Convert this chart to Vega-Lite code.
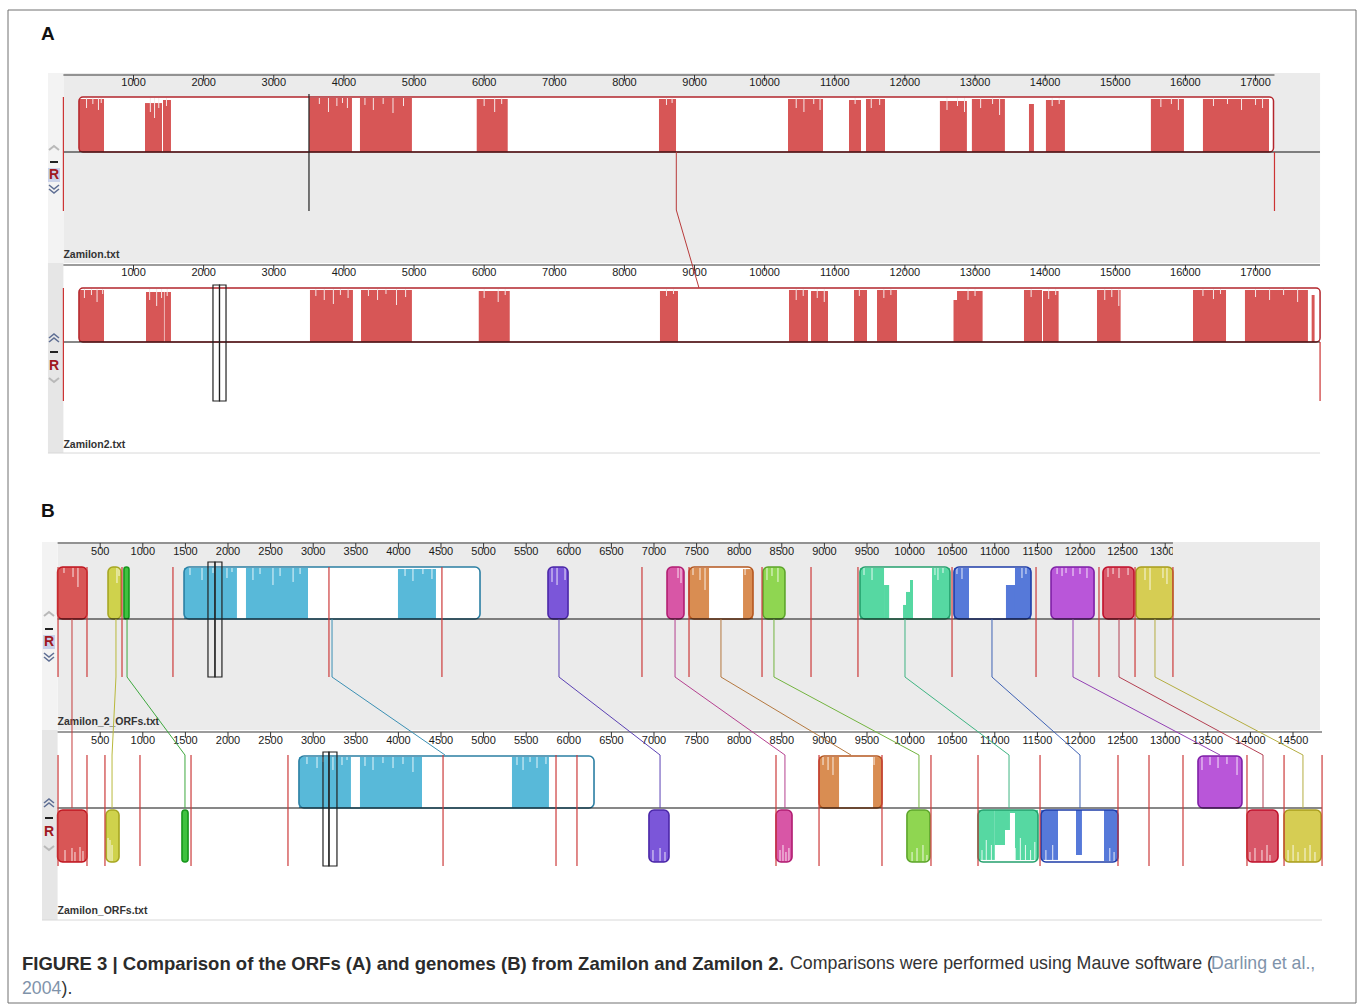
{
"$schema":"https://vega.github.io/schema/vega-lite/v6.json",
"width":1358,"height":1004,"padding":0,"autosize":{"type":"none"},
"background":"#ffffff",
"config":{"view":{"stroke":null},"text":{"font":"Liberation Sans"}},
"datasets":{
"caption":[{"id":"A","t":"A"},{"id":"B","t":"B"},{"id":"title","t":"FIGURE 3 | Comparison of the ORFs (A) and genomes (B) from Zamilon and Zamilon 2."},{"id":"body","t":"Comparisons were performed using Mauve software ("},{"id":"ref","t":"Darling et al.,"},{"id":"year","t":"2004"},{"id":"end","t":")."}],
"aSeq":[{"g":"Zamilon","file":"Zamilon.txt","len":17270},{"g":"Zamilon2","file":"Zamilon2.txt","len":17920}],
"aBlocks":[{"g":"Zamilon","s":222,"e":17256},{"g":"Zamilon2","s":222,"e":17920}],
"aTicks":[{"v":1000},{"v":2000},{"v":3000},{"v":4000},{"v":5000},{"v":6000},{"v":7000},{"v":8000},{"v":9000},{"v":10000},{"v":11000},{"v":12000},{"v":13000},{"v":14000},{"v":15000},{"v":16000},{"v":17000}],
"aProf":[
{"g":"Zamilon","s":222,"e":579,"lvl":0.964},{"g":"Zamilon","s":1164,"e":1406,"lvl":0.89},{"g":"Zamilon","s":1420,"e":1534,"lvl":0.945},{"g":"Zamilon","s":3502,"e":4115,"lvl":0.98},{"g":"Zamilon","s":4229,"e":4970,"lvl":0.98},{"g":"Zamilon","s":5894,"e":6336,"lvl":0.964},{"g":"Zamilon","s":8493,"e":8736,"lvl":0.964},{"g":"Zamilon","s":10333,"e":10832,"lvl":0.964},{"g":"Zamilon","s":11203,"e":11374,"lvl":0.945},{"g":"Zamilon","s":11445,"e":11716,"lvl":0.964},{"g":"Zamilon","s":12499,"e":12884,"lvl":0.927},{"g":"Zamilon","s":12955,"e":13426,"lvl":0.964},{"g":"Zamilon","s":13769,"e":13840,"lvl":0.873},{"g":"Zamilon","s":14011,"e":14282,"lvl":0.945},{"g":"Zamilon","s":15508,"e":15979,"lvl":0.964},{"g":"Zamilon","s":16250,"e":17192,"lvl":0.964},
{"g":"Zamilon2","s":222,"e":579,"lvl":0.963},{"g":"Zamilon2","s":1178,"e":1434,"lvl":0.926},{"g":"Zamilon2","s":1442,"e":1534,"lvl":0.926},{"g":"Zamilon2","s":3516,"e":4129,"lvl":0.963},{"g":"Zamilon2","s":4244,"e":4970,"lvl":0.963},{"g":"Zamilon2","s":5923,"e":6365,"lvl":0.944},{"g":"Zamilon2","s":8507,"e":8764,"lvl":0.944},{"g":"Zamilon2","s":10347,"e":10618,"lvl":0.963},{"g":"Zamilon2","s":10661,"e":10903,"lvl":0.944},{"g":"Zamilon2","s":11274,"e":11459,"lvl":0.963},{"g":"Zamilon2","s":11602,"e":11887,"lvl":0.963},{"g":"Zamilon2","s":12693,"e":12743,"lvl":0.778},{"g":"Zamilon2","s":12743,"e":13108,"lvl":0.944},{"g":"Zamilon2","s":13698,"e":13955,"lvl":0.963},{"g":"Zamilon2","s":13969,"e":14192,"lvl":0.944},{"g":"Zamilon2","s":14739,"e":15076,"lvl":0.963},{"g":"Zamilon2","s":16108,"e":16579,"lvl":0.963},{"g":"Zamilon2","s":16849,"e":17747,"lvl":0.963},{"g":"Zamilon2","s":17800,"e":17842,"lvl":0.87}],
"aDip":[
{"g":"Zamilon","pos":330,"lo":0.8},{"g":"Zamilon","pos":420,"lo":0.873},{"g":"Zamilon","pos":500,"lo":0.764},{"g":"Zamilon","pos":540,"lo":0.891},
{"g":"Zamilon","pos":1240,"lo":0.727},{"g":"Zamilon","pos":1300,"lo":0.618},{"g":"Zamilon","pos":1360,"lo":0.8},{"g":"Zamilon","pos":1470,"lo":0.836},
{"g":"Zamilon","pos":3650,"lo":0.873},{"g":"Zamilon","pos":3780,"lo":0.727},{"g":"Zamilon","pos":3900,"lo":0.836},{"g":"Zamilon","pos":3980,"lo":0.891},{"g":"Zamilon","pos":4050,"lo":0.8},
{"g":"Zamilon","pos":4300,"lo":0.855},{"g":"Zamilon","pos":4420,"lo":0.764},{"g":"Zamilon","pos":4560,"lo":0.873},{"g":"Zamilon","pos":4700,"lo":0.709},{"g":"Zamilon","pos":4850,"lo":0.836},
{"g":"Zamilon","pos":6000,"lo":0.836},{"g":"Zamilon","pos":6150,"lo":0.727},{"g":"Zamilon","pos":6250,"lo":0.873},
{"g":"Zamilon","pos":8600,"lo":0.855},{"g":"Zamilon","pos":8680,"lo":0.891},
{"g":"Zamilon","pos":10450,"lo":0.8},{"g":"Zamilon","pos":10560,"lo":0.727},{"g":"Zamilon","pos":10700,"lo":0.873},{"g":"Zamilon","pos":10790,"lo":0.764},
{"g":"Zamilon","pos":11290,"lo":0.873},{"g":"Zamilon","pos":11520,"lo":0.8},{"g":"Zamilon","pos":11640,"lo":0.855},
{"g":"Zamilon","pos":12600,"lo":0.764},{"g":"Zamilon","pos":12750,"lo":0.836},{"g":"Zamilon","pos":12850,"lo":0.727},
{"g":"Zamilon","pos":13080,"lo":0.8},{"g":"Zamilon","pos":13250,"lo":0.873},{"g":"Zamilon","pos":13350,"lo":0.673},
{"g":"Zamilon","pos":14100,"lo":0.836},{"g":"Zamilon","pos":14200,"lo":0.873},
{"g":"Zamilon","pos":15650,"lo":0.818},{"g":"Zamilon","pos":15800,"lo":0.873},{"g":"Zamilon","pos":15900,"lo":0.764},
{"g":"Zamilon","pos":16400,"lo":0.836},{"g":"Zamilon","pos":16600,"lo":0.873},{"g":"Zamilon","pos":16800,"lo":0.764},{"g":"Zamilon","pos":17000,"lo":0.855},{"g":"Zamilon","pos":17100,"lo":0.8},
{"g":"Zamilon2","pos":300,"lo":0.815},{"g":"Zamilon2","pos":400,"lo":0.87},{"g":"Zamilon2","pos":480,"lo":0.741},{"g":"Zamilon2","pos":560,"lo":0.889},
{"g":"Zamilon2","pos":1230,"lo":0.778},{"g":"Zamilon2","pos":1330,"lo":0.667},{"g":"Zamilon2","pos":1400,"lo":0.815},{"g":"Zamilon2","pos":1480,"lo":0.852},
{"g":"Zamilon2","pos":3600,"lo":0.852},{"g":"Zamilon2","pos":3720,"lo":0.778},{"g":"Zamilon2","pos":3850,"lo":0.704},{"g":"Zamilon2","pos":3950,"lo":0.87},{"g":"Zamilon2","pos":4060,"lo":0.815},
{"g":"Zamilon2","pos":4350,"lo":0.852},{"g":"Zamilon2","pos":4480,"lo":0.778},{"g":"Zamilon2","pos":4600,"lo":0.889},{"g":"Zamilon2","pos":4750,"lo":0.685},{"g":"Zamilon2","pos":4880,"lo":0.833},
{"g":"Zamilon2","pos":6000,"lo":0.815},{"g":"Zamilon2","pos":6200,"lo":0.741},{"g":"Zamilon2","pos":6300,"lo":0.87},
{"g":"Zamilon2","pos":8600,"lo":0.852},{"g":"Zamilon2","pos":8700,"lo":0.889},
{"g":"Zamilon2","pos":10450,"lo":0.778},{"g":"Zamilon2","pos":10550,"lo":0.852},{"g":"Zamilon2","pos":10750,"lo":0.815},{"g":"Zamilon2","pos":10850,"lo":0.741},
{"g":"Zamilon2","pos":11350,"lo":0.852},{"g":"Zamilon2","pos":11700,"lo":0.815},{"g":"Zamilon2","pos":11800,"lo":0.87},
{"g":"Zamilon2","pos":12900,"lo":0.778},{"g":"Zamilon2","pos":13000,"lo":0.852},
{"g":"Zamilon2","pos":13800,"lo":0.833},{"g":"Zamilon2","pos":14050,"lo":0.796},{"g":"Zamilon2","pos":14150,"lo":0.87},
{"g":"Zamilon2","pos":14850,"lo":0.778},{"g":"Zamilon2","pos":14950,"lo":0.833},{"g":"Zamilon2","pos":15050,"lo":0.667},
{"g":"Zamilon2","pos":16250,"lo":0.852},{"g":"Zamilon2","pos":16400,"lo":0.796},{"g":"Zamilon2","pos":16500,"lo":0.889},
{"g":"Zamilon2","pos":17000,"lo":0.833},{"g":"Zamilon2","pos":17200,"lo":0.778},{"g":"Zamilon2","pos":17400,"lo":0.87},{"g":"Zamilon2","pos":17600,"lo":0.741}],
"aCursor":[{"g":"Zamilon","s":3502,"e":3502},{"g":"Zamilon2","s":2133,"e":2226},{"g":"Zamilon2","s":2226,"e":2319}],
"aLink":[{"p1":8740,"p2":9064}],
"bSeq":[{"g":"Zamilon_2_ORFs","file":"Zamilon_2_ORFs.txt","len":13091},{"g":"Zamilon_ORFs","file":"Zamilon_ORFs.txt","len":14841}],
"bTicks":[{"v":500},{"v":1000},{"v":1500},{"v":2000},{"v":2500},{"v":3000},{"v":3500},{"v":4000},{"v":4500},{"v":5000},{"v":5500},{"v":6000},{"v":6500},{"v":7000},{"v":7500},{"v":8000},{"v":8500},{"v":9000},{"v":9500},{"v":10000},{"v":10500},{"v":11000},{"v":11500},{"v":12000},{"v":12500},{"v":13000},{"v":13500},{"v":14000},{"v":14500}],
"bBlocks":[
{"g":"Zamilon_2_ORFs","lcb":1,"s":0,"e":345,"st":"+","full":true},
{"g":"Zamilon_2_ORFs","lcb":2,"s":592,"e":745,"st":"+","full":true},
{"g":"Zamilon_2_ORFs","lcb":3,"s":779,"e":838,"st":"+","full":true},
{"g":"Zamilon_2_ORFs","lcb":4,"s":1484,"e":4958,"st":"+","full":false},
{"g":"Zamilon_2_ORFs","lcb":5,"s":5756,"e":5991,"st":"+","full":true},
{"g":"Zamilon_2_ORFs","lcb":6,"s":7153,"e":7352,"st":"+","full":true},
{"g":"Zamilon_2_ORFs","lcb":7,"s":7411,"e":8162,"st":"+","full":false},
{"g":"Zamilon_2_ORFs","lcb":8,"s":8279,"e":8537,"st":"+","full":true},
{"g":"Zamilon_2_ORFs","lcb":9,"s":9418,"e":10474,"st":"+","full":false},
{"g":"Zamilon_2_ORFs","lcb":10,"s":10521,"e":11425,"st":"+","full":false},
{"g":"Zamilon_2_ORFs","lcb":11,"s":11660,"e":12165,"st":"+","full":true},
{"g":"Zamilon_2_ORFs","lcb":12,"s":12270,"e":12634,"st":"+","full":true},
{"g":"Zamilon_2_ORFs","lcb":13,"s":12657,"e":13091,"st":"+","full":true},
{"g":"Zamilon_ORFs","lcb":1,"s":0,"e":345,"st":"-","full":true},
{"g":"Zamilon_ORFs","lcb":2,"s":568,"e":721,"st":"-","full":true},
{"g":"Zamilon_ORFs","lcb":3,"s":1460,"e":1531,"st":"-","full":true},
{"g":"Zamilon_ORFs","lcb":4,"s":2833,"e":6296,"st":"+","full":false},
{"g":"Zamilon_ORFs","lcb":5,"s":6941,"e":7176,"st":"-","full":true},
{"g":"Zamilon_ORFs","lcb":6,"s":8432,"e":8620,"st":"-","full":true},
{"g":"Zamilon_ORFs","lcb":7,"s":8937,"e":9676,"st":"+","full":false},
{"g":"Zamilon_ORFs","lcb":8,"s":9969,"e":10239,"st":"-","full":true},
{"g":"Zamilon_ORFs","lcb":9,"s":10803,"e":11507,"st":"-","full":false},
{"g":"Zamilon_ORFs","lcb":10,"s":11542,"e":12446,"st":"-","full":false},
{"g":"Zamilon_ORFs","lcb":11,"s":13385,"e":13901,"st":"+","full":true},
{"g":"Zamilon_ORFs","lcb":12,"s":13960,"e":14324,"st":"-","full":true},
{"g":"Zamilon_ORFs","lcb":13,"s":14395,"e":14830,"st":"-","full":true}],
"bProf":[
{"g":"Zamilon_2_ORFs","st":"+","lcb":4,"s":1484,"e":2105,"lvl":0.98},{"g":"Zamilon_2_ORFs","st":"+","lcb":4,"s":2211,"e":2939,"lvl":0.98},{"g":"Zamilon_2_ORFs","st":"+","lcb":4,"s":3995,"e":4441,"lvl":0.96},
{"g":"Zamilon_2_ORFs","st":"+","lcb":7,"s":7411,"e":7646,"lvl":0.98},{"g":"Zamilon_2_ORFs","st":"+","lcb":7,"s":8045,"e":8162,"lvl":0.96},
{"g":"Zamilon_2_ORFs","st":"+","lcb":9,"s":9418,"e":9700,"lvl":0.98},{"g":"Zamilon_2_ORFs","st":"+","lcb":9,"s":9700,"e":9760,"lvl":0.654},{"g":"Zamilon_2_ORFs","st":"+","lcb":9,"s":9923,"e":9958,"lvl":0.27},{"g":"Zamilon_2_ORFs","st":"+","lcb":9,"s":9958,"e":10005,"lvl":0.52},{"g":"Zamilon_2_ORFs","st":"+","lcb":9,"s":10005,"e":10040,"lvl":0.75},{"g":"Zamilon_2_ORFs","st":"+","lcb":9,"s":10263,"e":10474,"lvl":0.98},
{"g":"Zamilon_2_ORFs","st":"+","lcb":10,"s":10521,"e":10697,"lvl":0.98},{"g":"Zamilon_2_ORFs","st":"+","lcb":10,"s":11131,"e":11237,"lvl":0.654},{"g":"Zamilon_2_ORFs","st":"+","lcb":10,"s":11237,"e":11425,"lvl":0.98},
{"g":"Zamilon_ORFs","st":"+","lcb":4,"s":2833,"e":3443,"lvl":0.98},{"g":"Zamilon_ORFs","st":"+","lcb":4,"s":3549,"e":4277,"lvl":0.98},{"g":"Zamilon_ORFs","st":"+","lcb":4,"s":5333,"e":5767,"lvl":0.98},
{"g":"Zamilon_ORFs","st":"+","lcb":7,"s":8937,"e":9172,"lvl":0.98},{"g":"Zamilon_ORFs","st":"+","lcb":7,"s":9571,"e":9676,"lvl":0.98},
{"g":"Zamilon_ORFs","st":"-","lcb":9,"s":10803,"e":11000,"lvl":0.96},{"g":"Zamilon_ORFs","st":"-","lcb":9,"s":11000,"e":11120,"lvl":0.673},{"g":"Zamilon_ORFs","st":"-","lcb":9,"s":11120,"e":11178,"lvl":0.385},{"g":"Zamilon_ORFs","st":"-","lcb":9,"s":11178,"e":11237,"lvl":0.058},{"g":"Zamilon_ORFs","st":"-","lcb":9,"s":11237,"e":11507,"lvl":0.96},
{"g":"Zamilon_ORFs","st":"-","lcb":10,"s":11542,"e":11742,"lvl":0.96},{"g":"Zamilon_ORFs","st":"-","lcb":10,"s":11953,"e":12023,"lvl":0.865},{"g":"Zamilon_ORFs","st":"-","lcb":10,"s":12282,"e":12446,"lvl":0.98}],
"bDip":[
{"g":"Zamilon_2_ORFs","st":"+","pos":75,"lo":0.885},{"g":"Zamilon_2_ORFs","st":"+","pos":181,"lo":0.808},{"g":"Zamilon_2_ORFs","st":"+","pos":239,"lo":0.615},
{"g":"Zamilon_2_ORFs","st":"+","pos":697,"lo":0.692},{"g":"Zamilon_2_ORFs","st":"+","pos":721,"lo":0.827},
{"g":"Zamilon_2_ORFs","st":"+","pos":1554,"lo":0.846},{"g":"Zamilon_2_ORFs","st":"+","pos":1695,"lo":0.75},{"g":"Zamilon_2_ORFs","st":"+","pos":1824,"lo":0.885},{"g":"Zamilon_2_ORFs","st":"+","pos":1988,"lo":0.788},{"g":"Zamilon_2_ORFs","st":"+","pos":2047,"lo":0.904},{"g":"Zamilon_2_ORFs","st":"+","pos":2293,"lo":0.75},{"g":"Zamilon_2_ORFs","st":"+","pos":2376,"lo":0.865},{"g":"Zamilon_2_ORFs","st":"+","pos":2528,"lo":0.654},{"g":"Zamilon_2_ORFs","st":"+","pos":2611,"lo":0.827},{"g":"Zamilon_2_ORFs","st":"+","pos":2764,"lo":0.712},{"g":"Zamilon_2_ORFs","st":"+","pos":2846,"lo":0.865},{"g":"Zamilon_2_ORFs","st":"+","pos":4078,"lo":0.827},{"g":"Zamilon_2_ORFs","st":"+","pos":4171,"lo":0.731},{"g":"Zamilon_2_ORFs","st":"+","pos":4288,"lo":0.865},{"g":"Zamilon_2_ORFs","st":"+","pos":4394,"lo":0.769},
{"g":"Zamilon_2_ORFs","st":"+","pos":5803,"lo":0.712},{"g":"Zamilon_2_ORFs","st":"+","pos":5862,"lo":0.654},{"g":"Zamilon_2_ORFs","st":"+","pos":5956,"lo":0.75},
{"g":"Zamilon_2_ORFs","st":"+","pos":7282,"lo":0.788},{"g":"Zamilon_2_ORFs","st":"+","pos":7317,"lo":0.692},
{"g":"Zamilon_2_ORFs","st":"+","pos":7458,"lo":0.846},{"g":"Zamilon_2_ORFs","st":"+","pos":7540,"lo":0.75},{"g":"Zamilon_2_ORFs","st":"+","pos":7599,"lo":0.558},{"g":"Zamilon_2_ORFs","st":"+","pos":8069,"lo":0.846},
{"g":"Zamilon_2_ORFs","st":"+","pos":8326,"lo":0.75},{"g":"Zamilon_2_ORFs","st":"+","pos":8385,"lo":0.827},{"g":"Zamilon_2_ORFs","st":"+","pos":8455,"lo":0.712},
{"g":"Zamilon_2_ORFs","st":"+","pos":9465,"lo":0.846},{"g":"Zamilon_2_ORFs","st":"+","pos":9559,"lo":0.75},{"g":"Zamilon_2_ORFs","st":"+","pos":10298,"lo":0.846},{"g":"Zamilon_2_ORFs","st":"+","pos":10333,"lo":0.75},{"g":"Zamilon_2_ORFs","st":"+","pos":10392,"lo":0.885},
{"g":"Zamilon_2_ORFs","st":"+","pos":10556,"lo":0.865},{"g":"Zamilon_2_ORFs","st":"+","pos":10615,"lo":0.769},{"g":"Zamilon_2_ORFs","st":"+","pos":11319,"lo":0.788},{"g":"Zamilon_2_ORFs","st":"+","pos":11366,"lo":0.865},
{"g":"Zamilon_2_ORFs","st":"+","pos":11731,"lo":0.865},{"g":"Zamilon_2_ORFs","st":"+","pos":11789,"lo":0.827},{"g":"Zamilon_2_ORFs","st":"+","pos":11836,"lo":0.885},{"g":"Zamilon_2_ORFs","st":"+","pos":11918,"lo":0.827},{"g":"Zamilon_2_ORFs","st":"+","pos":12000,"lo":0.865},{"g":"Zamilon_2_ORFs","st":"+","pos":12082,"lo":0.788},
{"g":"Zamilon_2_ORFs","st":"+","pos":12329,"lo":0.808},{"g":"Zamilon_2_ORFs","st":"+","pos":12388,"lo":0.865},{"g":"Zamilon_2_ORFs","st":"+","pos":12458,"lo":0.788},{"g":"Zamilon_2_ORFs","st":"+","pos":12564,"lo":0.846},
{"g":"Zamilon_2_ORFs","st":"+","pos":12763,"lo":0.75},{"g":"Zamilon_2_ORFs","st":"+","pos":12822,"lo":0.558},{"g":"Zamilon_2_ORFs","st":"+","pos":12974,"lo":0.788},{"g":"Zamilon_2_ORFs","st":"+","pos":13021,"lo":0.673},
{"g":"Zamilon_ORFs","st":"+","pos":2927,"lo":0.846},{"g":"Zamilon_ORFs","st":"+","pos":3045,"lo":0.769},{"g":"Zamilon_ORFs","st":"+","pos":3115,"lo":0.885},{"g":"Zamilon_ORFs","st":"+","pos":3232,"lo":0.731},{"g":"Zamilon_ORFs","st":"+","pos":3338,"lo":0.827},{"g":"Zamilon_ORFs","st":"+","pos":3397,"lo":0.923},{"g":"Zamilon_ORFs","st":"+","pos":3608,"lo":0.808},{"g":"Zamilon_ORFs","st":"+","pos":3702,"lo":0.731},{"g":"Zamilon_ORFs","st":"+","pos":3819,"lo":0.865},{"g":"Zamilon_ORFs","st":"+","pos":3937,"lo":0.769},{"g":"Zamilon_ORFs","st":"+","pos":4054,"lo":0.846},{"g":"Zamilon_ORFs","st":"+","pos":4171,"lo":0.692},{"g":"Zamilon_ORFs","st":"+","pos":5392,"lo":0.827},{"g":"Zamilon_ORFs","st":"+","pos":5463,"lo":0.731},{"g":"Zamilon_ORFs","st":"+","pos":5545,"lo":0.885},{"g":"Zamilon_ORFs","st":"+","pos":5627,"lo":0.769},{"g":"Zamilon_ORFs","st":"+","pos":5732,"lo":0.846},
{"g":"Zamilon_ORFs","st":"+","pos":8984,"lo":0.827},{"g":"Zamilon_ORFs","st":"+","pos":9043,"lo":0.731},{"g":"Zamilon_ORFs","st":"+","pos":9101,"lo":0.635},{"g":"Zamilon_ORFs","st":"+","pos":9583,"lo":0.827},
{"g":"Zamilon_ORFs","st":"+","pos":13432,"lo":0.731},{"g":"Zamilon_ORFs","st":"+","pos":13526,"lo":0.827},{"g":"Zamilon_ORFs","st":"+","pos":13620,"lo":0.769},{"g":"Zamilon_ORFs","st":"+","pos":13725,"lo":0.846},{"g":"Zamilon_ORFs","st":"+","pos":13843,"lo":0.635},
{"g":"Zamilon_ORFs","st":"-","pos":87,"lo":0.77},{"g":"Zamilon_ORFs","st":"-","pos":169,"lo":0.731},{"g":"Zamilon_ORFs","st":"-","pos":204,"lo":0.808},{"g":"Zamilon_ORFs","st":"-","pos":263,"lo":0.712},{"g":"Zamilon_ORFs","st":"-","pos":298,"lo":0.788},
{"g":"Zamilon_ORFs","st":"-","pos":592,"lo":0.538},{"g":"Zamilon_ORFs","st":"-","pos":615,"lo":0.577},{"g":"Zamilon_ORFs","st":"-","pos":639,"lo":0.673},
{"g":"Zamilon_ORFs","st":"-","pos":6988,"lo":0.77},{"g":"Zamilon_ORFs","st":"-","pos":7071,"lo":0.731},{"g":"Zamilon_ORFs","st":"-","pos":7129,"lo":0.808},
{"g":"Zamilon_ORFs","st":"-","pos":8479,"lo":0.77},{"g":"Zamilon_ORFs","st":"-","pos":8514,"lo":0.673},{"g":"Zamilon_ORFs","st":"-","pos":8549,"lo":0.808},{"g":"Zamilon_ORFs","st":"-","pos":8584,"lo":0.731},
{"g":"Zamilon_ORFs","st":"-","pos":10029,"lo":0.808},{"g":"Zamilon_ORFs","st":"-","pos":10087,"lo":0.731},{"g":"Zamilon_ORFs","st":"-","pos":10157,"lo":0.673},{"g":"Zamilon_ORFs","st":"-","pos":10204,"lo":0.865},
{"g":"Zamilon_ORFs","st":"-","pos":10850,"lo":0.77},{"g":"Zamilon_ORFs","st":"-","pos":10900,"lo":0.577},{"g":"Zamilon_ORFs","st":"-","pos":10960,"lo":0.673},{"g":"Zamilon_ORFs","st":"-","pos":11240,"lo":0.731},{"g":"Zamilon_ORFs","st":"-","pos":11300,"lo":0.538},{"g":"Zamilon_ORFs","st":"-","pos":11360,"lo":0.673},{"g":"Zamilon_ORFs","st":"-","pos":11420,"lo":0.77},{"g":"Zamilon_ORFs","st":"-","pos":11470,"lo":0.615},
{"g":"Zamilon_ORFs","st":"-","pos":11600,"lo":0.77},{"g":"Zamilon_ORFs","st":"-","pos":11680,"lo":0.673},{"g":"Zamilon_ORFs","st":"-","pos":12350,"lo":0.731},{"g":"Zamilon_ORFs","st":"-","pos":12400,"lo":0.808},
{"g":"Zamilon_ORFs","st":"-","pos":13995,"lo":0.808},{"g":"Zamilon_ORFs","st":"-","pos":14054,"lo":0.731},{"g":"Zamilon_ORFs","st":"-","pos":14136,"lo":0.77},{"g":"Zamilon_ORFs","st":"-","pos":14195,"lo":0.673},{"g":"Zamilon_ORFs","st":"-","pos":14230,"lo":0.865},
{"g":"Zamilon_ORFs","st":"-","pos":14442,"lo":0.77},{"g":"Zamilon_ORFs","st":"-","pos":14501,"lo":0.673},{"g":"Zamilon_ORFs","st":"-","pos":14559,"lo":0.808},{"g":"Zamilon_ORFs","st":"-","pos":14641,"lo":0.731},{"g":"Zamilon_ORFs","st":"-","pos":14700,"lo":0.673},{"g":"Zamilon_ORFs","st":"-","pos":14758,"lo":0.808}],
"bOrf":[
{"g":"Zamilon_2_ORFs","pos":5},{"g":"Zamilon_2_ORFs","pos":345},{"g":"Zamilon_2_ORFs","pos":756},{"g":"Zamilon_2_ORFs","pos":1354},{"g":"Zamilon_2_ORFs","pos":3185},{"g":"Zamilon_2_ORFs","pos":4511},{"g":"Zamilon_2_ORFs","pos":6859},{"g":"Zamilon_2_ORFs","pos":7411},{"g":"Zamilon_2_ORFs","pos":8268},{"g":"Zamilon_2_ORFs","pos":8843},{"g":"Zamilon_2_ORFs","pos":9394},{"g":"Zamilon_2_ORFs","pos":10498},{"g":"Zamilon_2_ORFs","pos":11484},{"g":"Zamilon_2_ORFs","pos":12223},{"g":"Zamilon_2_ORFs","pos":12646},{"g":"Zamilon_2_ORFs","pos":13091},
{"g":"Zamilon_ORFs","pos":5},{"g":"Zamilon_ORFs","pos":345},{"g":"Zamilon_ORFs","pos":556},{"g":"Zamilon_ORFs","pos":967},{"g":"Zamilon_ORFs","pos":1566},{"g":"Zamilon_ORFs","pos":2704},{"g":"Zamilon_ORFs","pos":4524},{"g":"Zamilon_ORFs","pos":5850},{"g":"Zamilon_ORFs","pos":6096},{"g":"Zamilon_ORFs","pos":8432},{"g":"Zamilon_ORFs","pos":8937},{"g":"Zamilon_ORFs","pos":9676},{"g":"Zamilon_ORFs","pos":10251},{"g":"Zamilon_ORFs","pos":10803},{"g":"Zamilon_ORFs","pos":11531},{"g":"Zamilon_ORFs","pos":12446},{"g":"Zamilon_ORFs","pos":12810},{"g":"Zamilon_ORFs","pos":13209},{"g":"Zamilon_ORFs","pos":13960},{"g":"Zamilon_ORFs","pos":14395},{"g":"Zamilon_ORFs","pos":14841}],
"bCursor":[{"g":"Zamilon_2_ORFs","s":1765,"e":1847},{"g":"Zamilon_2_ORFs","s":1847,"e":1929},{"g":"Zamilon_ORFs","s":3115,"e":3185},{"g":"Zamilon_ORFs","s":3185,"e":3279}],
"bLinks":[{"lcb":1,"p1":169,"p2":169,"st2":"-"},{"lcb":2,"p1":685,"p2":639,"st2":"-"},{"lcb":3,"p1":815,"p2":1495,"st2":"-"},{"lcb":4,"p1":3221,"p2":4547,"st2":"+"},{"lcb":5,"p1":5885,"p2":7071,"st2":"-"},{"lcb":6,"p1":7247,"p2":8537,"st2":"-"},{"lcb":7,"p1":7786,"p2":9312,"st2":"+"},{"lcb":8,"p1":8408,"p2":10110,"st2":"-"},{"lcb":9,"p1":9946,"p2":11167,"st2":"-"},{"lcb":10,"p1":10967,"p2":12000,"st2":"-"},{"lcb":11,"p1":11918,"p2":13643,"st2":"+"},{"lcb":12,"p1":12458,"p2":14148,"st2":"-"},{"lcb":13,"p1":12880,"p2":14617,"st2":"-"}]
},
"layer":[
{"data":{"name":"caption"},"transform":[{"filter":"datum.id==='A'"}],"mark":{"type":"rect","fillOpacity":0,"stroke":"#707070","strokeWidth":1},"encoding":{"x":{"datum":8,"type":"quantitative","scale":{"domain":[0,1358],"range":[0,1358],"nice":false,"zero":false},"axis":null},"x2":{"datum":1356},"y":{"datum":10,"type":"quantitative","scale":{"domain":[0,1004],"range":[0,1004],"nice":false,"zero":false},"axis":null},"y2":{"datum":1003}}},
{"data":{"name":"caption"},"transform":[{"filter":"datum.id==='A'"}],"mark":{"type":"text","align":"left","baseline":"middle","fontSize":19,"fontWeight":"bold","color":"#111111"},"encoding":{"x":{"datum":41,"type":"quantitative","scale":{"domain":[0,1358],"range":[0,1358],"nice":false,"zero":false},"axis":null},"y":{"datum":34,"type":"quantitative","scale":{"domain":[0,1004],"range":[0,1004],"nice":false,"zero":false},"axis":null},"text":{"field":"t","type":"nominal"}}},
{"data":{"name":"caption"},"transform":[{"filter":"datum.id==='B'"}],"mark":{"type":"text","align":"left","baseline":"middle","fontSize":19,"fontWeight":"bold","color":"#111111"},"encoding":{"x":{"datum":41,"type":"quantitative","scale":{"domain":[0,1358],"range":[0,1358],"nice":false,"zero":false},"axis":null},"y":{"datum":511,"type":"quantitative","scale":{"domain":[0,1004],"range":[0,1004],"nice":false,"zero":false},"axis":null},"text":{"field":"t","type":"nominal"}}},
{"data":{"name":"caption"},"transform":[{"filter":"datum.id==='title'"}],"mark":{"type":"text","align":"left","baseline":"middle","fontSize":18.5,"fontWeight":"bold","color":"#2b2b2b"},"encoding":{"x":{"datum":22,"type":"quantitative","scale":{"domain":[0,1358],"range":[0,1358],"nice":false,"zero":false},"axis":null},"y":{"datum":964,"type":"quantitative","scale":{"domain":[0,1004],"range":[0,1004],"nice":false,"zero":false},"axis":null},"text":{"field":"t","type":"nominal"}}},
{"data":{"name":"caption"},"transform":[{"filter":"datum.id==='body'"}],"mark":{"type":"text","align":"left","baseline":"middle","fontSize":17.8,"color":"#333333"},"encoding":{"x":{"datum":790,"type":"quantitative","scale":{"domain":[0,1358],"range":[0,1358],"nice":false,"zero":false},"axis":null},"y":{"datum":964,"type":"quantitative","scale":{"domain":[0,1004],"range":[0,1004],"nice":false,"zero":false},"axis":null},"text":{"field":"t","type":"nominal"}}},
{"data":{"name":"caption"},"transform":[{"filter":"datum.id==='ref'"}],"mark":{"type":"text","align":"left","baseline":"middle","fontSize":17.7,"color":"#7f93aa"},"encoding":{"x":{"datum":1211,"type":"quantitative","scale":{"domain":[0,1358],"range":[0,1358],"nice":false,"zero":false},"axis":null},"y":{"datum":964,"type":"quantitative","scale":{"domain":[0,1004],"range":[0,1004],"nice":false,"zero":false},"axis":null},"text":{"field":"t","type":"nominal"}}},
{"data":{"name":"caption"},"transform":[{"filter":"datum.id==='year'"}],"mark":{"type":"text","align":"left","baseline":"middle","fontSize":17.7,"color":"#7f93aa"},"encoding":{"x":{"datum":22,"type":"quantitative","scale":{"domain":[0,1358],"range":[0,1358],"nice":false,"zero":false},"axis":null},"y":{"datum":989,"type":"quantitative","scale":{"domain":[0,1004],"range":[0,1004],"nice":false,"zero":false},"axis":null},"text":{"field":"t","type":"nominal"}}},
{"data":{"name":"caption"},"transform":[{"filter":"datum.id==='end'"}],"mark":{"type":"text","align":"left","baseline":"middle","fontSize":17.7,"color":"#333333"},"encoding":{"x":{"datum":61.5,"type":"quantitative","scale":{"domain":[0,1358],"range":[0,1358],"nice":false,"zero":false},"axis":null},"y":{"datum":989,"type":"quantitative","scale":{"domain":[0,1004],"range":[0,1004],"nice":false,"zero":false},"axis":null},"text":{"field":"t","type":"nominal"}}},

{"data":{"name":"aSeq"},"transform":[{"filter":"datum.g==='Zamilon'"}],"mark":{"type":"rect","fill":"#ebebeb"},"encoding":{"x":{"datum":0,"type":"quantitative","scale":{"domain":[-904,18461],"nice":false,"zero":false},"axis":null},"x2":{"datum":17920},"y":{"datum":-79,"type":"quantitative","scale":{"domain":[-100,100],"range":[52,252],"nice":false,"zero":false},"axis":null},"y2":{"datum":111}}},
{"data":{"name":"aSeq"},"transform":[{"filter":"datum.g==='Zamilon'"}],"mark":{"type":"rect","fill":"#f3f3f3"},"encoding":{"x":{"datum":-220,"type":"quantitative","scale":{"domain":[-904,18461],"nice":false,"zero":false},"axis":null},"x2":{"datum":0},"y":{"datum":-79,"type":"quantitative","scale":{"domain":[-100,100],"range":[52,252],"nice":false,"zero":false},"axis":null},"y2":{"datum":111}}},
{"data":{"name":"aSeq"},"transform":[{"filter":"datum.g==='Zamilon'"}],"mark":{"type":"rule","stroke":"#3a3a3a","strokeWidth":1.2},"encoding":{"x":{"field":"len","type":"quantitative","scale":{"domain":[-904,18461],"nice":false,"zero":false},"axis":null},"x2":{"datum":0},"y":{"datum":-77,"type":"quantitative","scale":{"domain":[-100,100],"range":[52,252],"nice":false,"zero":false},"axis":null}}},
{"data":{"name":"aTicks"},"mark":{"type":"rule","stroke":"#333333","strokeWidth":1},"encoding":{"x":{"field":"v","type":"quantitative","scale":{"domain":[-904,18461],"nice":false,"zero":false},"axis":null},"y":{"datum":-77,"type":"quantitative","scale":{"domain":[-100,100],"range":[52,252],"nice":false,"zero":false},"axis":null},"y2":{"datum":-71}}},
{"data":{"name":"aTicks"},"mark":{"type":"text","fontSize":11,"align":"center","baseline":"middle","color":"#1a1a1a"},"encoding":{"x":{"field":"v","type":"quantitative","scale":{"domain":[-904,18461],"nice":false,"zero":false},"axis":null},"y":{"datum":-69,"type":"quantitative","scale":{"domain":[-100,100],"range":[52,252],"nice":false,"zero":false},"axis":null},"text":{"field":"v","type":"quantitative","format":"d"}}},
{"data":{"name":"aBlocks"},"transform":[{"filter":"datum.g==='Zamilon'"}],"mark":{"type":"rect","fill":"#ffffff","cornerRadius":4},"encoding":{"x":{"field":"s","type":"quantitative","scale":{"domain":[-904,18461],"nice":false,"zero":false},"axis":null},"x2":{"field":"e"},"y":{"datum":1,"type":"quantitative","scale":{"domain":[0,1],"range":[152,97],"nice":false,"zero":false},"axis":null},"y2":{"datum":0}}},
{"data":{"name":"aProf"},"transform":[{"filter":"datum.g==='Zamilon'"}],"mark":{"type":"rect","fill":"#d75656"},"encoding":{"x":{"field":"s","type":"quantitative","scale":{"domain":[-904,18461],"nice":false,"zero":false},"axis":null},"x2":{"field":"e"},"y":{"field":"lvl","type":"quantitative","scale":{"domain":[0,1],"range":[152,97],"nice":false,"zero":false},"axis":null},"y2":{"datum":0}}},
{"data":{"name":"aDip"},"transform":[{"filter":"datum.g==='Zamilon'"}],"mark":{"type":"rule","stroke":"#f6e8e8","strokeWidth":1},"encoding":{"x":{"field":"pos","type":"quantitative","scale":{"domain":[-904,18461],"nice":false,"zero":false},"axis":null},"y":{"field":"lo","type":"quantitative","scale":{"domain":[0,1],"range":[152,97],"nice":false,"zero":false},"axis":null},"y2":{"datum":0.985}}},
{"data":{"name":"aBlocks"},"transform":[{"filter":"datum.g==='Zamilon'"}],"mark":{"type":"rect","fillOpacity":0,"stroke":"#b3262c","strokeWidth":1.5,"cornerRadius":4},"encoding":{"x":{"field":"s","type":"quantitative","scale":{"domain":[-904,18461],"nice":false,"zero":false},"axis":null},"x2":{"field":"e"},"y":{"datum":1,"type":"quantitative","scale":{"domain":[0,1],"range":[152,97],"nice":false,"zero":false},"axis":null},"y2":{"datum":0}}},
{"data":{"name":"aSeq"},"transform":[{"filter":"datum.g==='Zamilon'"}],"mark":{"type":"rule","stroke":"#111111","strokeWidth":1.2},"encoding":{"x":{"datum":0,"type":"quantitative","scale":{"domain":[-904,18461],"nice":false,"zero":false},"axis":null},"x2":{"datum":17920},"y":{"datum":0,"type":"quantitative","scale":{"domain":[-100,100],"range":[52,252],"nice":false,"zero":false},"axis":null}}},
{"data":{"name":"aSeq"},"transform":[{"filter":"datum.g==='Zamilon'"}],"mark":{"type":"rule","stroke":"#cc3333","strokeWidth":1.2},"encoding":{"x":{"datum":0,"type":"quantitative","scale":{"domain":[-904,18461],"nice":false,"zero":false},"axis":null},"y":{"datum":-55,"type":"quantitative","scale":{"domain":[-100,100],"range":[52,252],"nice":false,"zero":false},"axis":null},"y2":{"datum":59}}},
{"data":{"name":"aSeq"},"transform":[{"filter":"datum.g==='Zamilon'"}],"mark":{"type":"rule","stroke":"#cc3333","strokeWidth":1.2},"encoding":{"x":{"field":"len","type":"quantitative","scale":{"domain":[-904,18461],"nice":false,"zero":false},"axis":null},"y":{"datum":0,"type":"quantitative","scale":{"domain":[-100,100],"range":[52,252],"nice":false,"zero":false},"axis":null},"y2":{"datum":59}}},
{"data":{"name":"aCursor"},"transform":[{"filter":"datum.g==='Zamilon'"}],"mark":{"type":"rule","stroke":"#222222","strokeWidth":1.2},"encoding":{"x":{"field":"s","type":"quantitative","scale":{"domain":[-904,18461],"nice":false,"zero":false},"axis":null},"y":{"datum":-58,"type":"quantitative","scale":{"domain":[-100,100],"range":[52,252],"nice":false,"zero":false},"axis":null},"y2":{"datum":59}}},
{"data":{"name":"aSeq"},"transform":[{"filter":"datum.g==='Zamilon'"}],"mark":{"type":"rect","fill":"#c9d1e8"},"encoding":{"x":{"datum":-220,"type":"quantitative","scale":{"domain":[-904,18461],"nice":false,"zero":false},"axis":null},"x2":{"datum":-48},"y":{"datum":16,"type":"quantitative","scale":{"domain":[-100,100],"range":[52,252],"nice":false,"zero":false},"axis":null},"y2":{"datum":30}}},
{"data":{"name":"aSeq"},"transform":[{"filter":"datum.g==='Zamilon'"}],"mark":{"type":"text","text":"R","fontSize":14,"fontWeight":"bold","align":"center","baseline":"middle","color":"#a01820"},"encoding":{"x":{"datum":-134,"type":"quantitative","scale":{"domain":[-904,18461],"nice":false,"zero":false},"axis":null},"y":{"datum":23,"type":"quantitative","scale":{"domain":[-100,100],"range":[52,252],"nice":false,"zero":false},"axis":null}}},
{"data":{"name":"aSeq"},"transform":[{"filter":"datum.g==='Zamilon'"}],"mark":{"type":"rule","stroke":"#222222","strokeWidth":2},"encoding":{"x":{"datum":-191,"type":"quantitative","scale":{"domain":[-904,18461],"nice":false,"zero":false},"axis":null},"x2":{"datum":-77},"y":{"datum":10,"type":"quantitative","scale":{"domain":[-100,100],"range":[52,252],"nice":false,"zero":false},"axis":null}}},
{"data":{"name":"aSeq"},"transform":[{"filter":"datum.g==='Zamilon'"}],"mark":{"type":"point","shape":"M-1,0.4L0,-0.4L1,0.4","filled":false,"stroke":"#b9b9b9","strokeWidth":2,"size":100,"opacity":1},"encoding":{"x":{"datum":-134,"type":"quantitative","scale":{"domain":[-904,18461],"nice":false,"zero":false},"axis":null},"y":{"datum":-4,"type":"quantitative","scale":{"domain":[-100,100],"range":[52,252],"nice":false,"zero":false},"axis":null}}},
{"data":{"name":"aSeq"},"transform":[{"filter":"datum.g==='Zamilon'"}],"mark":{"type":"point","shape":"M-1,-0.8L0,0L1,-0.8M-1,0L0,0.8L1,0","filled":false,"stroke":"#5f6f94","strokeWidth":1.6,"size":100,"opacity":1},"encoding":{"x":{"datum":-134,"type":"quantitative","scale":{"domain":[-904,18461],"nice":false,"zero":false},"axis":null},"y":{"datum":37,"type":"quantitative","scale":{"domain":[-100,100],"range":[52,252],"nice":false,"zero":false},"axis":null}}},
{"data":{"name":"aSeq"},"transform":[{"filter":"datum.g==='Zamilon'"}],"mark":{"type":"text","fontSize":10.5,"fontWeight":"bold","align":"left","baseline":"middle","color":"#333333"},"encoding":{"x":{"datum":0,"type":"quantitative","scale":{"domain":[-904,18461],"nice":false,"zero":false},"axis":null},"y":{"datum":103,"type":"quantitative","scale":{"domain":[-100,100],"range":[52,252],"nice":false,"zero":false},"axis":null},"text":{"field":"file","type":"nominal"}}},

{"data":{"name":"aSeq"},"transform":[{"filter":"datum.g==='Zamilon2'"}],"mark":{"type":"rect","fill":"#e6e6e6"},"encoding":{"x":{"datum":-220,"type":"quantitative","scale":{"domain":[-904,18461],"nice":false,"zero":false},"axis":null},"x2":{"datum":0},"y":{"datum":-79,"type":"quantitative","scale":{"domain":[-100,100],"range":[242,442],"nice":false,"zero":false},"axis":null},"y2":{"datum":111}}},
{"data":{"name":"aSeq"},"transform":[{"filter":"datum.g==='Zamilon2'"}],"mark":{"type":"rule","stroke":"#d8d8d8","strokeWidth":1},"encoding":{"x":{"datum":-220,"type":"quantitative","scale":{"domain":[-904,18461],"nice":false,"zero":false},"axis":null},"x2":{"datum":17920},"y":{"datum":111,"type":"quantitative","scale":{"domain":[-100,100],"range":[242,442],"nice":false,"zero":false},"axis":null}}},
{"data":{"name":"aSeq"},"transform":[{"filter":"datum.g==='Zamilon2'"}],"mark":{"type":"rule","stroke":"#3a3a3a","strokeWidth":1.2},"encoding":{"x":{"field":"len","type":"quantitative","scale":{"domain":[-904,18461],"nice":false,"zero":false},"axis":null},"x2":{"datum":0},"y":{"datum":-77,"type":"quantitative","scale":{"domain":[-100,100],"range":[242,442],"nice":false,"zero":false},"axis":null}}},
{"data":{"name":"aTicks"},"mark":{"type":"rule","stroke":"#333333","strokeWidth":1},"encoding":{"x":{"field":"v","type":"quantitative","scale":{"domain":[-904,18461],"nice":false,"zero":false},"axis":null},"y":{"datum":-77,"type":"quantitative","scale":{"domain":[-100,100],"range":[242,442],"nice":false,"zero":false},"axis":null},"y2":{"datum":-71}}},
{"data":{"name":"aTicks"},"mark":{"type":"text","fontSize":11,"align":"center","baseline":"middle","color":"#1a1a1a"},"encoding":{"x":{"field":"v","type":"quantitative","scale":{"domain":[-904,18461],"nice":false,"zero":false},"axis":null},"y":{"datum":-69,"type":"quantitative","scale":{"domain":[-100,100],"range":[242,442],"nice":false,"zero":false},"axis":null},"text":{"field":"v","type":"quantitative","format":"d"}}},
{"data":{"name":"aBlocks"},"transform":[{"filter":"datum.g==='Zamilon2'"}],"mark":{"type":"rect","fill":"#ffffff","cornerRadius":4},"encoding":{"x":{"field":"s","type":"quantitative","scale":{"domain":[-904,18461],"nice":false,"zero":false},"axis":null},"x2":{"field":"e"},"y":{"datum":1,"type":"quantitative","scale":{"domain":[0,1],"range":[342,288],"nice":false,"zero":false},"axis":null},"y2":{"datum":0}}},
{"data":{"name":"aProf"},"transform":[{"filter":"datum.g==='Zamilon2'"}],"mark":{"type":"rect","fill":"#d75656"},"encoding":{"x":{"field":"s","type":"quantitative","scale":{"domain":[-904,18461],"nice":false,"zero":false},"axis":null},"x2":{"field":"e"},"y":{"field":"lvl","type":"quantitative","scale":{"domain":[0,1],"range":[342,288],"nice":false,"zero":false},"axis":null},"y2":{"datum":0}}},
{"data":{"name":"aDip"},"transform":[{"filter":"datum.g==='Zamilon2'"}],"mark":{"type":"rule","stroke":"#f6e8e8","strokeWidth":1},"encoding":{"x":{"field":"pos","type":"quantitative","scale":{"domain":[-904,18461],"nice":false,"zero":false},"axis":null},"y":{"field":"lo","type":"quantitative","scale":{"domain":[0,1],"range":[342,288],"nice":false,"zero":false},"axis":null},"y2":{"datum":0.985}}},
{"data":{"name":"aBlocks"},"transform":[{"filter":"datum.g==='Zamilon2'"}],"mark":{"type":"rect","fillOpacity":0,"stroke":"#b3262c","strokeWidth":1.5,"cornerRadius":4},"encoding":{"x":{"field":"s","type":"quantitative","scale":{"domain":[-904,18461],"nice":false,"zero":false},"axis":null},"x2":{"field":"e"},"y":{"datum":1,"type":"quantitative","scale":{"domain":[0,1],"range":[342,288],"nice":false,"zero":false},"axis":null},"y2":{"datum":0}}},
{"data":{"name":"aSeq"},"transform":[{"filter":"datum.g==='Zamilon2'"}],"mark":{"type":"rule","stroke":"#111111","strokeWidth":1.2},"encoding":{"x":{"datum":0,"type":"quantitative","scale":{"domain":[-904,18461],"nice":false,"zero":false},"axis":null},"x2":{"datum":17920},"y":{"datum":0,"type":"quantitative","scale":{"domain":[-100,100],"range":[242,442],"nice":false,"zero":false},"axis":null}}},
{"data":{"name":"aSeq"},"transform":[{"filter":"datum.g==='Zamilon2'"}],"mark":{"type":"rule","stroke":"#cc3333","strokeWidth":1.2},"encoding":{"x":{"datum":0,"type":"quantitative","scale":{"domain":[-904,18461],"nice":false,"zero":false},"axis":null},"y":{"datum":-54,"type":"quantitative","scale":{"domain":[-100,100],"range":[242,442],"nice":false,"zero":false},"axis":null},"y2":{"datum":59}}},
{"data":{"name":"aSeq"},"transform":[{"filter":"datum.g==='Zamilon2'"}],"mark":{"type":"rule","stroke":"#cc3333","strokeWidth":1.2},"encoding":{"x":{"field":"len","type":"quantitative","scale":{"domain":[-904,18461],"nice":false,"zero":false},"axis":null},"y":{"datum":0,"type":"quantitative","scale":{"domain":[-100,100],"range":[242,442],"nice":false,"zero":false},"axis":null},"y2":{"datum":59}}},
{"data":{"name":"aCursor"},"transform":[{"filter":"datum.g==='Zamilon2'"}],"mark":{"type":"rect","fillOpacity":0,"stroke":"#222222","strokeWidth":1.2},"encoding":{"x":{"field":"s","type":"quantitative","scale":{"domain":[-904,18461],"nice":false,"zero":false},"axis":null},"x2":{"field":"e"},"y":{"datum":-57,"type":"quantitative","scale":{"domain":[-100,100],"range":[242,442],"nice":false,"zero":false},"axis":null},"y2":{"datum":59}}},
{"data":{"name":"aSeq"},"transform":[{"filter":"datum.g==='Zamilon2'"}],"mark":{"type":"text","text":"R","fontSize":14,"fontWeight":"bold","align":"center","baseline":"middle","color":"#a01820"},"encoding":{"x":{"datum":-134,"type":"quantitative","scale":{"domain":[-904,18461],"nice":false,"zero":false},"axis":null},"y":{"datum":24,"type":"quantitative","scale":{"domain":[-100,100],"range":[242,442],"nice":false,"zero":false},"axis":null}}},
{"data":{"name":"aSeq"},"transform":[{"filter":"datum.g==='Zamilon2'"}],"mark":{"type":"rule","stroke":"#222222","strokeWidth":2},"encoding":{"x":{"datum":-191,"type":"quantitative","scale":{"domain":[-904,18461],"nice":false,"zero":false},"axis":null},"x2":{"datum":-77},"y":{"datum":10,"type":"quantitative","scale":{"domain":[-100,100],"range":[242,442],"nice":false,"zero":false},"axis":null}}},
{"data":{"name":"aSeq"},"transform":[{"filter":"datum.g==='Zamilon2'"}],"mark":{"type":"point","shape":"M-1,0L0,-0.8L1,0M-1,0.8L0,0L1,0.8","filled":false,"stroke":"#5f6f94","strokeWidth":1.6,"size":100,"opacity":1},"encoding":{"x":{"datum":-134,"type":"quantitative","scale":{"domain":[-904,18461],"nice":false,"zero":false},"axis":null},"y":{"datum":-4,"type":"quantitative","scale":{"domain":[-100,100],"range":[242,442],"nice":false,"zero":false},"axis":null}}},
{"data":{"name":"aSeq"},"transform":[{"filter":"datum.g==='Zamilon2'"}],"mark":{"type":"point","shape":"M-1,-0.4L0,0.4L1,-0.4","filled":false,"stroke":"#b9b9b9","strokeWidth":2,"size":100,"opacity":1},"encoding":{"x":{"datum":-134,"type":"quantitative","scale":{"domain":[-904,18461],"nice":false,"zero":false},"axis":null},"y":{"datum":38,"type":"quantitative","scale":{"domain":[-100,100],"range":[242,442],"nice":false,"zero":false},"axis":null}}},
{"data":{"name":"aSeq"},"transform":[{"filter":"datum.g==='Zamilon2'"}],"mark":{"type":"text","fontSize":10.5,"fontWeight":"bold","align":"left","baseline":"middle","color":"#333333"},"encoding":{"x":{"datum":0,"type":"quantitative","scale":{"domain":[-904,18461],"nice":false,"zero":false},"axis":null},"y":{"datum":103,"type":"quantitative","scale":{"domain":[-100,100],"range":[242,442],"nice":false,"zero":false},"axis":null},"text":{"field":"file","type":"nominal"}}},

{"data":{"name":"aLink"},"mark":{"type":"rule","stroke":"#b83a3a","strokeWidth":1},"encoding":{"x":{"field":"p1","type":"quantitative","scale":{"domain":[-904,18461],"nice":false,"zero":false},"axis":null},"y":{"datum":0,"type":"quantitative","scale":{"domain":[-100,100],"range":[52,252],"nice":false,"zero":false},"axis":null},"y2":{"datum":58}}},
{"data":{"name":"aLink"},"mark":{"type":"rule","stroke":"#b83a3a","strokeWidth":1},"encoding":{"x":{"field":"p1","type":"quantitative","scale":{"domain":[-904,18461],"nice":false,"zero":false},"axis":null},"x2":{"field":"p2"},"y":{"datum":58,"type":"quantitative","scale":{"domain":[-100,100],"range":[52,252],"nice":false,"zero":false},"axis":null},"y2":{"datum":136}}},

{"data":{"name":"bSeq"},"transform":[{"filter":"datum.g==='Zamilon_2_ORFs'"}],"mark":{"type":"rect","fill":"#ebebeb"},"encoding":{"x":{"datum":0,"type":"quantitative","scale":{"domain":[-676,15263],"nice":false,"zero":false},"axis":null},"x2":{"datum":14817},"y":{"datum":-77,"type":"quantitative","scale":{"domain":[-100,100],"range":[519,719],"nice":false,"zero":false},"axis":null},"y2":{"datum":111}}},
{"data":{"name":"bSeq"},"transform":[{"filter":"datum.g==='Zamilon_2_ORFs'"}],"mark":{"type":"rect","fill":"#f3f3f3"},"encoding":{"x":{"datum":-183,"type":"quantitative","scale":{"domain":[-676,15263],"nice":false,"zero":false},"axis":null},"x2":{"datum":0},"y":{"datum":-77,"type":"quantitative","scale":{"domain":[-100,100],"range":[519,719],"nice":false,"zero":false},"axis":null},"y2":{"datum":111}}},
{"data":{"name":"bSeq"},"transform":[{"filter":"datum.g==='Zamilon_2_ORFs'"}],"mark":{"type":"rule","stroke":"#3a3a3a","strokeWidth":1.2},"encoding":{"x":{"field":"len","type":"quantitative","scale":{"domain":[-676,15263],"nice":false,"zero":false},"axis":null},"x2":{"datum":0},"y":{"datum":-76,"type":"quantitative","scale":{"domain":[-100,100],"range":[519,719],"nice":false,"zero":false},"axis":null}}},
{"data":{"name":"bTicks"},"transform":[{"filter":"datum.v<=13000"}],"mark":{"type":"rule","stroke":"#333333","strokeWidth":1},"encoding":{"x":{"field":"v","type":"quantitative","scale":{"domain":[-676,15263],"nice":false,"zero":false},"axis":null},"y":{"datum":-76,"type":"quantitative","scale":{"domain":[-100,100],"range":[519,719],"nice":false,"zero":false},"axis":null},"y2":{"datum":-70}}},
{"data":{"name":"bTicks"},"transform":[{"filter":"datum.v<=13000"}],"mark":{"type":"text","fontSize":11,"align":"center","baseline":"middle","color":"#1a1a1a"},"encoding":{"x":{"field":"v","type":"quantitative","scale":{"domain":[-676,15263],"nice":false,"zero":false},"axis":null},"y":{"datum":-67,"type":"quantitative","scale":{"domain":[-100,100],"range":[519,719],"nice":false,"zero":false},"axis":null},"text":{"field":"v","type":"quantitative","format":"d"}}},
{"data":{"name":"bSeq"},"transform":[{"filter":"datum.g==='Zamilon_2_ORFs'"}],"mark":{"type":"rect","fill":"#ebebeb"},"encoding":{"x":{"field":"len","type":"quantitative","scale":{"domain":[-676,15263],"nice":false,"zero":false},"axis":null},"x2":{"datum":14817},"y":{"datum":-75,"type":"quantitative","scale":{"domain":[-100,100],"range":[519,719],"nice":false,"zero":false},"axis":null},"y2":{"datum":-57}}},
{"data":{"name":"bBlocks"},"transform":[{"filter":"datum.g==='Zamilon_2_ORFs' && !datum.full"}],"mark":{"type":"rect","fill":"#ffffff","cornerRadius":5},"encoding":{"x":{"field":"s","type":"quantitative","scale":{"domain":[-676,15263],"nice":false,"zero":false},"axis":null},"x2":{"field":"e"},"y":{"datum":1,"type":"quantitative","scale":{"domain":[0,1],"range":[619,567],"nice":false,"zero":false},"axis":null},"y2":{"datum":0}}},
{"data":{"name":"bBlocks"},"transform":[{"filter":"datum.g==='Zamilon_2_ORFs' && datum.full"}],"mark":{"type":"rect","cornerRadius":5},"encoding":{"x":{"field":"s","type":"quantitative","scale":{"domain":[-676,15263],"nice":false,"zero":false},"axis":null},"x2":{"field":"e"},"y":{"datum":1,"type":"quantitative","scale":{"domain":[0,1],"range":[619,567],"nice":false,"zero":false},"axis":null},"y2":{"datum":0},"fill":{"field":"lcb","type":"nominal","legend":null,"scale":{"domain":[1,2,3,4,5,6,7,8,9,10,11,12,13],"range":["#d85656","#cfd24c","#3fc23f","#58b9d9","#7b56d9","#d856a6","#d98d52","#8fd651","#56d8a2","#5679d9","#b956d9","#d85668","#d6cd53"]}}}},
{"data":{"name":"bProf"},"transform":[{"filter":"datum.g==='Zamilon_2_ORFs'"}],"mark":{"type":"rect"},"encoding":{"x":{"field":"s","type":"quantitative","scale":{"domain":[-676,15263],"nice":false,"zero":false},"axis":null},"x2":{"field":"e"},"y":{"field":"lvl","type":"quantitative","scale":{"domain":[0,1],"range":[619,567],"nice":false,"zero":false},"axis":null},"y2":{"datum":0},"fill":{"field":"lcb","type":"nominal","legend":null,"scale":{"domain":[1,2,3,4,5,6,7,8,9,10,11,12,13],"range":["#d85656","#cfd24c","#3fc23f","#58b9d9","#7b56d9","#d856a6","#d98d52","#8fd651","#56d8a2","#5679d9","#b956d9","#d85668","#d6cd53"]}}}},
{"data":{"name":"bDip"},"transform":[{"filter":"datum.g==='Zamilon_2_ORFs'"}],"mark":{"type":"rule","stroke":"#ffffff","strokeOpacity":0.85,"strokeWidth":1},"encoding":{"x":{"field":"pos","type":"quantitative","scale":{"domain":[-676,15263],"nice":false,"zero":false},"axis":null},"y":{"field":"lo","type":"quantitative","scale":{"domain":[0,1],"range":[619,567],"nice":false,"zero":false},"axis":null},"y2":{"datum":0.985}}},
{"data":{"name":"bBlocks"},"transform":[{"filter":"datum.g==='Zamilon_2_ORFs'"}],"mark":{"type":"rect","fillOpacity":0,"strokeWidth":1.6,"cornerRadius":5},"encoding":{"x":{"field":"s","type":"quantitative","scale":{"domain":[-676,15263],"nice":false,"zero":false},"axis":null},"x2":{"field":"e"},"y":{"datum":1,"type":"quantitative","scale":{"domain":[0,1],"range":[619,567],"nice":false,"zero":false},"axis":null},"y2":{"datum":0},"stroke":{"field":"lcb","type":"nominal","legend":null,"scale":{"domain":[1,2,3,4,5,6,7,8,9,10,11,12,13],"range":["#c0151f","#a6a622","#17971c","#2b7fa3","#4b27a8","#b11d72","#b5571f","#5da52b","#24a06d","#1e3da8","#7f20a6","#c0112b","#a99d1d"]}}}},
{"data":{"name":"bSeq"},"transform":[{"filter":"datum.g==='Zamilon_2_ORFs'"}],"mark":{"type":"rule","stroke":"#111111","strokeWidth":1.2},"encoding":{"x":{"datum":0,"type":"quantitative","scale":{"domain":[-676,15263],"nice":false,"zero":false},"axis":null},"x2":{"datum":14817},"y":{"datum":0,"type":"quantitative","scale":{"domain":[-100,100],"range":[519,719],"nice":false,"zero":false},"axis":null}}},
{"data":{"name":"bOrf"},"transform":[{"filter":"datum.g==='Zamilon_2_ORFs'"}],"mark":{"type":"rule","stroke":"#cc3b3b","strokeWidth":1.2},"encoding":{"x":{"field":"pos","type":"quantitative","scale":{"domain":[-676,15263],"nice":false,"zero":false},"axis":null},"y":{"datum":-52,"type":"quantitative","scale":{"domain":[-100,100],"range":[519,719],"nice":false,"zero":false},"axis":null},"y2":{"datum":58}}},
{"data":{"name":"bCursor"},"transform":[{"filter":"datum.g==='Zamilon_2_ORFs'"}],"mark":{"type":"rect","fillOpacity":0,"stroke":"#222222","strokeWidth":1.2},"encoding":{"x":{"field":"s","type":"quantitative","scale":{"domain":[-676,15263],"nice":false,"zero":false},"axis":null},"x2":{"field":"e"},"y":{"datum":-57,"type":"quantitative","scale":{"domain":[-100,100],"range":[519,719],"nice":false,"zero":false},"axis":null},"y2":{"datum":58}}},
{"data":{"name":"bSeq"},"transform":[{"filter":"datum.g==='Zamilon_2_ORFs'"}],"mark":{"type":"rect","fill":"#c9d1e8"},"encoding":{"x":{"datum":-171,"type":"quantitative","scale":{"domain":[-676,15263],"nice":false,"zero":false},"axis":null},"x2":{"datum":-31},"y":{"datum":16,"type":"quantitative","scale":{"domain":[-100,100],"range":[519,719],"nice":false,"zero":false},"axis":null},"y2":{"datum":30}}},
{"data":{"name":"bSeq"},"transform":[{"filter":"datum.g==='Zamilon_2_ORFs'"}],"mark":{"type":"text","text":"R","fontSize":14,"fontWeight":"bold","align":"center","baseline":"middle","color":"#a01820"},"encoding":{"x":{"datum":-101,"type":"quantitative","scale":{"domain":[-676,15263],"nice":false,"zero":false},"axis":null},"y":{"datum":23,"type":"quantitative","scale":{"domain":[-100,100],"range":[519,719],"nice":false,"zero":false},"axis":null}}},
{"data":{"name":"bSeq"},"transform":[{"filter":"datum.g==='Zamilon_2_ORFs'"}],"mark":{"type":"rule","stroke":"#222222","strokeWidth":2},"encoding":{"x":{"datum":-148,"type":"quantitative","scale":{"domain":[-676,15263],"nice":false,"zero":false},"axis":null},"x2":{"datum":-54},"y":{"datum":10,"type":"quantitative","scale":{"domain":[-100,100],"range":[519,719],"nice":false,"zero":false},"axis":null}}},
{"data":{"name":"bSeq"},"transform":[{"filter":"datum.g==='Zamilon_2_ORFs'"}],"mark":{"type":"point","shape":"M-1,0.4L0,-0.4L1,0.4","filled":false,"stroke":"#b9b9b9","strokeWidth":2,"size":100,"opacity":1},"encoding":{"x":{"datum":-101,"type":"quantitative","scale":{"domain":[-676,15263],"nice":false,"zero":false},"axis":null},"y":{"datum":-5,"type":"quantitative","scale":{"domain":[-100,100],"range":[519,719],"nice":false,"zero":false},"axis":null}}},
{"data":{"name":"bSeq"},"transform":[{"filter":"datum.g==='Zamilon_2_ORFs'"}],"mark":{"type":"point","shape":"M-1,-0.8L0,0L1,-0.8M-1,0L0,0.8L1,0","filled":false,"stroke":"#5f6f94","strokeWidth":1.6,"size":100,"opacity":1},"encoding":{"x":{"datum":-101,"type":"quantitative","scale":{"domain":[-676,15263],"nice":false,"zero":false},"axis":null},"y":{"datum":38,"type":"quantitative","scale":{"domain":[-100,100],"range":[519,719],"nice":false,"zero":false},"axis":null}}},
{"data":{"name":"bSeq"},"transform":[{"filter":"datum.g==='Zamilon_2_ORFs'"}],"mark":{"type":"text","fontSize":10.5,"fontWeight":"bold","align":"left","baseline":"middle","color":"#333333"},"encoding":{"x":{"datum":0,"type":"quantitative","scale":{"domain":[-676,15263],"nice":false,"zero":false},"axis":null},"y":{"datum":103,"type":"quantitative","scale":{"domain":[-100,100],"range":[519,719],"nice":false,"zero":false},"axis":null},"text":{"field":"file","type":"nominal"}}},

{"data":{"name":"bSeq"},"transform":[{"filter":"datum.g==='Zamilon_ORFs'"}],"mark":{"type":"rect","fill":"#e6e6e6"},"encoding":{"x":{"datum":-183,"type":"quantitative","scale":{"domain":[-676,15263],"nice":false,"zero":false},"axis":null},"x2":{"datum":0},"y":{"datum":-78,"type":"quantitative","scale":{"domain":[-100,100],"range":[708,908],"nice":false,"zero":false},"axis":null},"y2":{"datum":112}}},
{"data":{"name":"bSeq"},"transform":[{"filter":"datum.g==='Zamilon_ORFs'"}],"mark":{"type":"rule","stroke":"#d8d8d8","strokeWidth":1},"encoding":{"x":{"field":"len","type":"quantitative","scale":{"domain":[-676,15263],"nice":false,"zero":false},"axis":null},"x2":{"datum":-183},"y":{"datum":112,"type":"quantitative","scale":{"domain":[-100,100],"range":[708,908],"nice":false,"zero":false},"axis":null}}},
{"data":{"name":"bSeq"},"transform":[{"filter":"datum.g==='Zamilon_ORFs'"}],"mark":{"type":"rule","stroke":"#3a3a3a","strokeWidth":1.2},"encoding":{"x":{"field":"len","type":"quantitative","scale":{"domain":[-676,15263],"nice":false,"zero":false},"axis":null},"x2":{"datum":0},"y":{"datum":-76,"type":"quantitative","scale":{"domain":[-100,100],"range":[708,908],"nice":false,"zero":false},"axis":null}}},
{"data":{"name":"bTicks"},"mark":{"type":"rule","stroke":"#333333","strokeWidth":1},"encoding":{"x":{"field":"v","type":"quantitative","scale":{"domain":[-676,15263],"nice":false,"zero":false},"axis":null},"y":{"datum":-76,"type":"quantitative","scale":{"domain":[-100,100],"range":[708,908],"nice":false,"zero":false},"axis":null},"y2":{"datum":-70}}},
{"data":{"name":"bTicks"},"mark":{"type":"text","fontSize":11,"align":"center","baseline":"middle","color":"#1a1a1a"},"encoding":{"x":{"field":"v","type":"quantitative","scale":{"domain":[-676,15263],"nice":false,"zero":false},"axis":null},"y":{"datum":-67,"type":"quantitative","scale":{"domain":[-100,100],"range":[708,908],"nice":false,"zero":false},"axis":null},"text":{"field":"v","type":"quantitative","format":"d"}}},
{"data":{"name":"bBlocks"},"transform":[{"filter":"datum.g==='Zamilon_ORFs' && datum.st==='+' && !datum.full"}],"mark":{"type":"rect","fill":"#ffffff","cornerRadius":5},"encoding":{"x":{"field":"s","type":"quantitative","scale":{"domain":[-676,15263],"nice":false,"zero":false},"axis":null},"x2":{"field":"e"},"y":{"datum":1,"type":"quantitative","scale":{"domain":[0,1],"range":[808,756],"nice":false,"zero":false},"axis":null},"y2":{"datum":0}}},
{"data":{"name":"bBlocks"},"transform":[{"filter":"datum.g==='Zamilon_ORFs' && datum.st==='+' && datum.full"}],"mark":{"type":"rect","cornerRadius":5},"encoding":{"x":{"field":"s","type":"quantitative","scale":{"domain":[-676,15263],"nice":false,"zero":false},"axis":null},"x2":{"field":"e"},"y":{"datum":1,"type":"quantitative","scale":{"domain":[0,1],"range":[808,756],"nice":false,"zero":false},"axis":null},"y2":{"datum":0},"fill":{"field":"lcb","type":"nominal","legend":null,"scale":{"domain":[1,2,3,4,5,6,7,8,9,10,11,12,13],"range":["#d85656","#cfd24c","#3fc23f","#58b9d9","#7b56d9","#d856a6","#d98d52","#8fd651","#56d8a2","#5679d9","#b956d9","#d85668","#d6cd53"]}}}},
{"data":{"name":"bProf"},"transform":[{"filter":"datum.g==='Zamilon_ORFs' && datum.st==='+'"}],"mark":{"type":"rect"},"encoding":{"x":{"field":"s","type":"quantitative","scale":{"domain":[-676,15263],"nice":false,"zero":false},"axis":null},"x2":{"field":"e"},"y":{"field":"lvl","type":"quantitative","scale":{"domain":[0,1],"range":[808,756],"nice":false,"zero":false},"axis":null},"y2":{"datum":0},"fill":{"field":"lcb","type":"nominal","legend":null,"scale":{"domain":[1,2,3,4,5,6,7,8,9,10,11,12,13],"range":["#d85656","#cfd24c","#3fc23f","#58b9d9","#7b56d9","#d856a6","#d98d52","#8fd651","#56d8a2","#5679d9","#b956d9","#d85668","#d6cd53"]}}}},
{"data":{"name":"bDip"},"transform":[{"filter":"datum.g==='Zamilon_ORFs' && datum.st==='+'"}],"mark":{"type":"rule","stroke":"#ffffff","strokeOpacity":0.85,"strokeWidth":1},"encoding":{"x":{"field":"pos","type":"quantitative","scale":{"domain":[-676,15263],"nice":false,"zero":false},"axis":null},"y":{"field":"lo","type":"quantitative","scale":{"domain":[0,1],"range":[808,756],"nice":false,"zero":false},"axis":null},"y2":{"datum":0.985}}},
{"data":{"name":"bBlocks"},"transform":[{"filter":"datum.g==='Zamilon_ORFs' && datum.st==='+'"}],"mark":{"type":"rect","fillOpacity":0,"strokeWidth":1.6,"cornerRadius":5},"encoding":{"x":{"field":"s","type":"quantitative","scale":{"domain":[-676,15263],"nice":false,"zero":false},"axis":null},"x2":{"field":"e"},"y":{"datum":1,"type":"quantitative","scale":{"domain":[0,1],"range":[808,756],"nice":false,"zero":false},"axis":null},"y2":{"datum":0},"stroke":{"field":"lcb","type":"nominal","legend":null,"scale":{"domain":[1,2,3,4,5,6,7,8,9,10,11,12,13],"range":["#c0151f","#a6a622","#17971c","#2b7fa3","#4b27a8","#b11d72","#b5571f","#5da52b","#24a06d","#1e3da8","#7f20a6","#c0112b","#a99d1d"]}}}},
{"data":{"name":"bBlocks"},"transform":[{"filter":"datum.g==='Zamilon_ORFs' && datum.st==='-' && !datum.full"}],"mark":{"type":"rect","fill":"#ffffff","cornerRadius":5},"encoding":{"x":{"field":"s","type":"quantitative","scale":{"domain":[-676,15263],"nice":false,"zero":false},"axis":null},"x2":{"field":"e"},"y":{"datum":0,"type":"quantitative","scale":{"domain":[0,1],"range":[810,862],"nice":false,"zero":false},"axis":null},"y2":{"datum":1}}},
{"data":{"name":"bBlocks"},"transform":[{"filter":"datum.g==='Zamilon_ORFs' && datum.st==='-' && datum.full"}],"mark":{"type":"rect","cornerRadius":5},"encoding":{"x":{"field":"s","type":"quantitative","scale":{"domain":[-676,15263],"nice":false,"zero":false},"axis":null},"x2":{"field":"e"},"y":{"datum":0,"type":"quantitative","scale":{"domain":[0,1],"range":[810,862],"nice":false,"zero":false},"axis":null},"y2":{"datum":1},"fill":{"field":"lcb","type":"nominal","legend":null,"scale":{"domain":[1,2,3,4,5,6,7,8,9,10,11,12,13],"range":["#d85656","#cfd24c","#3fc23f","#58b9d9","#7b56d9","#d856a6","#d98d52","#8fd651","#56d8a2","#5679d9","#b956d9","#d85668","#d6cd53"]}}}},
{"data":{"name":"bProf"},"transform":[{"filter":"datum.g==='Zamilon_ORFs' && datum.st==='-'"}],"mark":{"type":"rect"},"encoding":{"x":{"field":"s","type":"quantitative","scale":{"domain":[-676,15263],"nice":false,"zero":false},"axis":null},"x2":{"field":"e"},"y":{"field":"lvl","type":"quantitative","scale":{"domain":[0,1],"range":[810,862],"nice":false,"zero":false},"axis":null},"y2":{"datum":0},"fill":{"field":"lcb","type":"nominal","legend":null,"scale":{"domain":[1,2,3,4,5,6,7,8,9,10,11,12,13],"range":["#d85656","#cfd24c","#3fc23f","#58b9d9","#7b56d9","#d856a6","#d98d52","#8fd651","#56d8a2","#5679d9","#b956d9","#d85668","#d6cd53"]}}}},
{"data":{"name":"bDip"},"transform":[{"filter":"datum.g==='Zamilon_ORFs' && datum.st==='-'"}],"mark":{"type":"rule","stroke":"#ffffff","strokeOpacity":0.85,"strokeWidth":1},"encoding":{"x":{"field":"pos","type":"quantitative","scale":{"domain":[-676,15263],"nice":false,"zero":false},"axis":null},"y":{"field":"lo","type":"quantitative","scale":{"domain":[0,1],"range":[810,862],"nice":false,"zero":false},"axis":null},"y2":{"datum":0.985}}},
{"data":{"name":"bBlocks"},"transform":[{"filter":"datum.g==='Zamilon_ORFs' && datum.st==='-'"}],"mark":{"type":"rect","fillOpacity":0,"strokeWidth":1.6,"cornerRadius":5},"encoding":{"x":{"field":"s","type":"quantitative","scale":{"domain":[-676,15263],"nice":false,"zero":false},"axis":null},"x2":{"field":"e"},"y":{"datum":0,"type":"quantitative","scale":{"domain":[0,1],"range":[810,862],"nice":false,"zero":false},"axis":null},"y2":{"datum":1},"stroke":{"field":"lcb","type":"nominal","legend":null,"scale":{"domain":[1,2,3,4,5,6,7,8,9,10,11,12,13],"range":["#c0151f","#a6a622","#17971c","#2b7fa3","#4b27a8","#b11d72","#b5571f","#5da52b","#24a06d","#1e3da8","#7f20a6","#c0112b","#a99d1d"]}}}},
{"data":{"name":"bSeq"},"transform":[{"filter":"datum.g==='Zamilon_ORFs'"}],"mark":{"type":"rule","stroke":"#111111","strokeWidth":1.2},"encoding":{"x":{"field":"len","type":"quantitative","scale":{"domain":[-676,15263],"nice":false,"zero":false},"axis":null},"x2":{"datum":0},"y":{"datum":0,"type":"quantitative","scale":{"domain":[-100,100],"range":[708,908],"nice":false,"zero":false},"axis":null}}},
{"data":{"name":"bOrf"},"transform":[{"filter":"datum.g==='Zamilon_ORFs'"}],"mark":{"type":"rule","stroke":"#cc3b3b","strokeWidth":1.2},"encoding":{"x":{"field":"pos","type":"quantitative","scale":{"domain":[-676,15263],"nice":false,"zero":false},"axis":null},"y":{"datum":-53,"type":"quantitative","scale":{"domain":[-100,100],"range":[708,908],"nice":false,"zero":false},"axis":null},"y2":{"datum":58}}},
{"data":{"name":"bCursor"},"transform":[{"filter":"datum.g==='Zamilon_ORFs'"}],"mark":{"type":"rect","fillOpacity":0,"stroke":"#222222","strokeWidth":1.2},"encoding":{"x":{"field":"s","type":"quantitative","scale":{"domain":[-676,15263],"nice":false,"zero":false},"axis":null},"x2":{"field":"e"},"y":{"datum":-56,"type":"quantitative","scale":{"domain":[-100,100],"range":[708,908],"nice":false,"zero":false},"axis":null},"y2":{"datum":58}}},
{"data":{"name":"bSeq"},"transform":[{"filter":"datum.g==='Zamilon_ORFs'"}],"mark":{"type":"text","text":"R","fontSize":14,"fontWeight":"bold","align":"center","baseline":"middle","color":"#a01820"},"encoding":{"x":{"datum":-101,"type":"quantitative","scale":{"domain":[-676,15263],"nice":false,"zero":false},"axis":null},"y":{"datum":24,"type":"quantitative","scale":{"domain":[-100,100],"range":[708,908],"nice":false,"zero":false},"axis":null}}},
{"data":{"name":"bSeq"},"transform":[{"filter":"datum.g==='Zamilon_ORFs'"}],"mark":{"type":"rule","stroke":"#222222","strokeWidth":2},"encoding":{"x":{"datum":-148,"type":"quantitative","scale":{"domain":[-676,15263],"nice":false,"zero":false},"axis":null},"x2":{"datum":-54},"y":{"datum":10,"type":"quantitative","scale":{"domain":[-100,100],"range":[708,908],"nice":false,"zero":false},"axis":null}}},
{"data":{"name":"bSeq"},"transform":[{"filter":"datum.g==='Zamilon_ORFs'"}],"mark":{"type":"point","shape":"M-1,0L0,-0.8L1,0M-1,0.8L0,0L1,0.8","filled":false,"stroke":"#5f6f94","strokeWidth":1.6,"size":100,"opacity":1},"encoding":{"x":{"datum":-101,"type":"quantitative","scale":{"domain":[-676,15263],"nice":false,"zero":false},"axis":null},"y":{"datum":-5,"type":"quantitative","scale":{"domain":[-100,100],"range":[708,908],"nice":false,"zero":false},"axis":null}}},
{"data":{"name":"bSeq"},"transform":[{"filter":"datum.g==='Zamilon_ORFs'"}],"mark":{"type":"point","shape":"M-1,-0.4L0,0.4L1,-0.4","filled":false,"stroke":"#b9b9b9","strokeWidth":2,"size":100,"opacity":1},"encoding":{"x":{"datum":-101,"type":"quantitative","scale":{"domain":[-676,15263],"nice":false,"zero":false},"axis":null},"y":{"datum":40,"type":"quantitative","scale":{"domain":[-100,100],"range":[708,908],"nice":false,"zero":false},"axis":null}}},
{"data":{"name":"bSeq"},"transform":[{"filter":"datum.g==='Zamilon_ORFs'"}],"mark":{"type":"text","fontSize":10.5,"fontWeight":"bold","align":"left","baseline":"middle","color":"#333333"},"encoding":{"x":{"datum":0,"type":"quantitative","scale":{"domain":[-676,15263],"nice":false,"zero":false},"axis":null},"y":{"datum":103,"type":"quantitative","scale":{"domain":[-100,100],"range":[708,908],"nice":false,"zero":false},"axis":null},"text":{"field":"file","type":"nominal"}}},

{"data":{"name":"bLinks"},"mark":{"type":"rule","strokeWidth":1},"encoding":{"x":{"field":"p1","type":"quantitative","scale":{"domain":[-676,15263],"nice":false,"zero":false},"axis":null},"y":{"datum":0,"type":"quantitative","scale":{"domain":[-100,100],"range":[519,719],"nice":false,"zero":false},"axis":null},"y2":{"datum":58},"stroke":{"field":"lcb","type":"nominal","legend":null,"scale":{"domain":[1,2,3,4,5,6,7,8,9,10,11,12,13],"range":["#c43c3c","#b9b93c","#3ea83e","#3b90b4","#5b41b4","#b4408f","#b4783f","#73b43f","#3fb482","#3f62b4","#9340b4","#b44052","#b4ad40"]}}}},
{"data":{"name":"bLinks"},"mark":{"type":"rule","strokeWidth":1},"encoding":{"x":{"field":"p1","type":"quantitative","scale":{"domain":[-676,15263],"nice":false,"zero":false},"axis":null},"x2":{"field":"p2"},"y":{"datum":58,"type":"quantitative","scale":{"domain":[-100,100],"range":[519,719],"nice":false,"zero":false},"axis":null},"y2":{"datum":136},"stroke":{"field":"lcb","type":"nominal","legend":null,"scale":{"domain":[1,2,3,4,5,6,7,8,9,10,11,12,13],"range":["#c43c3c","#b9b93c","#3ea83e","#3b90b4","#5b41b4","#b4408f","#b4783f","#73b43f","#3fb482","#3f62b4","#9340b4","#b44052","#b4ad40"]}}}},
{"data":{"name":"bLinks"},"transform":[{"filter":"datum.st2==='-'"}],"mark":{"type":"rule","strokeWidth":1},"encoding":{"x":{"field":"p2","type":"quantitative","scale":{"domain":[-676,15263],"nice":false,"zero":false},"axis":null},"y":{"datum":136,"type":"quantitative","scale":{"domain":[-100,100],"range":[519,719],"nice":false,"zero":false},"axis":null},"y2":{"datum":189},"stroke":{"field":"lcb","type":"nominal","legend":null,"scale":{"domain":[1,2,3,4,5,6,7,8,9,10,11,12,13],"range":["#c43c3c","#b9b93c","#3ea83e","#3b90b4","#5b41b4","#b4408f","#b4783f","#73b43f","#3fb482","#3f62b4","#9340b4","#b44052","#b4ad40"]}}}}
],
"resolve":{"scale":{"x":"independent","y":"independent","fill":"independent","stroke":"independent"}}
}
